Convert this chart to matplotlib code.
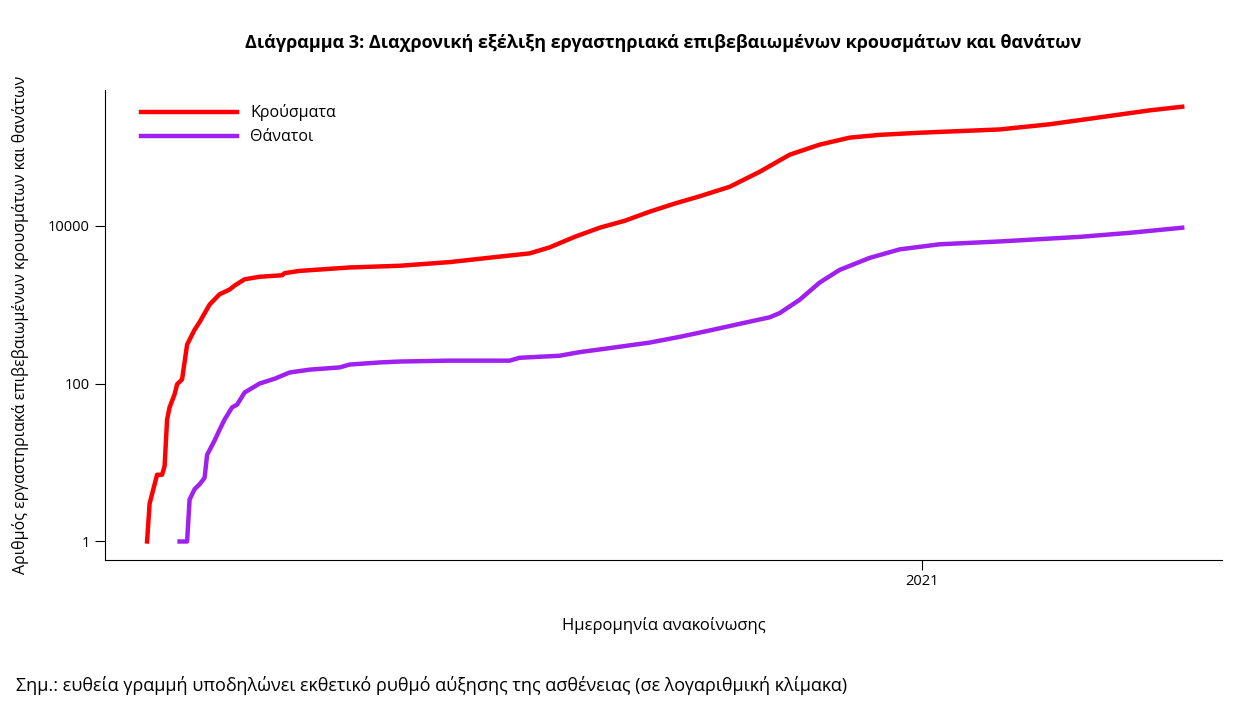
import numpy as np
import pandas as pd
import matplotlib
matplotlib.use('Agg')
import matplotlib.pyplot as plt
import matplotlib.dates as mdates
from matplotlib.ticker import FixedLocator, NullLocator

plt.rcParams['font.family'] = 'Open Sans'

case_dates = ['2020-02-26', '2020-02-27', '2020-02-28', '2020-03-01', '2020-03-03', '2020-03-04',
              '2020-03-05', '2020-03-06', '2020-03-08', '2020-03-09', '2020-03-11', '2020-03-13',
              '2020-03-14', '2020-03-16', '2020-03-18', '2020-03-22', '2020-03-26', '2020-03-30',
              '2020-04-01', '2020-04-05', '2020-04-11', '2020-04-20', '2020-04-21', '2020-04-27',
              '2020-05-17', '2020-06-06', '2020-06-26', '2020-07-16', '2020-07-28', '2020-08-05',
              '2020-08-15', '2020-08-25', '2020-09-04', '2020-09-14', '2020-09-24', '2020-10-04',
              '2020-10-16', '2020-10-28', '2020-11-09', '2020-11-21', '2020-12-03', '2020-12-15',
              '2020-12-31', '2021-02-01', '2021-02-21', '2021-03-13', '2021-04-02', '2021-04-15']
cases = [1, 3, 4, 7, 7, 9, 35, 50, 73, 98, 113, 310, 360, 480, 600, 1000, 1350, 1550,
         1740, 2090, 2250, 2350, 2500, 2670, 2950, 3100, 3450, 4050, 4450, 5300,
         7200, 9400, 11500, 15000, 19000, 23500, 31000, 48000, 79000, 106000, 130000, 141000,
         150000, 165000, 192000, 235000, 288000, 320000]

death_dates = ['2020-03-10', '2020-03-13', '2020-03-14', '2020-03-16', '2020-03-18', '2020-03-20',
               '2020-03-21', '2020-03-24', '2020-03-26', '2020-03-28', '2020-03-31', '2020-04-02',
               '2020-04-05', '2020-04-11', '2020-04-17', '2020-04-23', '2020-05-01', '2020-05-13',
               '2020-05-17', '2020-05-29', '2020-06-06', '2020-06-26', '2020-07-20', '2020-07-24',
               '2020-08-09', '2020-08-17', '2020-08-25', '2020-09-14', '2020-09-26', '2020-10-08',
               '2020-10-20', '2020-11-01', '2020-11-05', '2020-11-13', '2020-11-21', '2020-11-29',
               '2020-12-11', '2020-12-23', '2021-01-08', '2021-02-01', '2021-03-05', '2021-03-25',
               '2021-04-15']
deaths = [1, 1, 3.4, 4.6, 5.3, 6.4, 12.5, 19, 26, 35, 50, 54, 77, 100, 115, 138, 150, 160,
          174, 185, 190, 195, 195, 212, 225, 250, 270, 330, 390, 470, 570, 690, 780,
          1150, 1900, 2750, 3900, 5000, 5800, 6300, 7200, 8100, 9400]

fig = plt.figure(figsize=(12.6, 7.24), dpi=100)
ax = fig.add_axes([0.083, 0.227, 0.887, 0.649])
ax.plot(pd.to_datetime(case_dates), cases, color='#ff0000', lw=3.2, label='Κρούσματα')
ax.plot(pd.to_datetime(death_dates), deaths, color='#a020f0', lw=3.2, label='Θάνατοι')
ax.set_yscale('log')
ax.set_ylim(10 ** -0.23, 10 ** 5.72)
ax.set_xlim(pd.Timestamp('2020-02-09'), pd.Timestamp('2021-05-01'))
ax.yaxis.set_major_locator(FixedLocator([1, 100, 10000]))
ax.yaxis.set_minor_locator(NullLocator())
ax.set_yticklabels(['1', '100', '10000'])
ax.set_xticks([pd.Timestamp('2021-01-01')])
ax.xaxis.set_major_formatter(mdates.DateFormatter('%Y'))
ax.tick_params(labelsize=10.5, length=7)
for s in ['top', 'right']:
    ax.spines[s].set_visible(False)
ax.set_xlabel('Ημερομηνία ανακοίνωσης', fontsize=12, labelpad=20)
ax.set_ylabel('Αριθμός εργαστηριακά επιβεβαιωμένων κρουσμάτων και θανάτων', fontsize=11.5, labelpad=14)
ax.set_title('Διάγραμμα 3: Διαχρονική εξέλιξη εργαστηριακά επιβεβαιωμένων κρουσμάτων και θανάτων',
             fontsize=13, fontweight='bold', pad=30)
ax.legend(loc='upper left', frameon=False, fontsize=11.5, handlelength=6, borderaxespad=0.5,
          bbox_to_anchor=(0.02, 1.0))
fig.text(0.013, 0.045, 'Σημ.: ευθεία γραμμή υποδηλώνει εκθετικό ρυθμό αύξησης της ασθένειας (σε λογαριθμική κλίμακα)',
         fontsize=13)
fig.savefig('out.png')
